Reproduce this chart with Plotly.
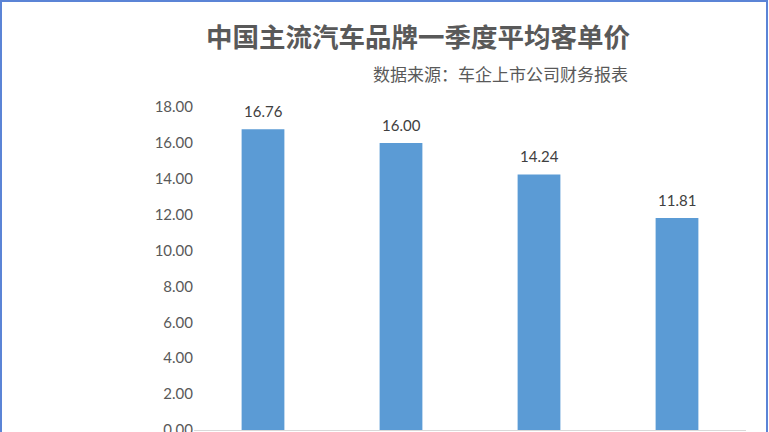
import plotly.graph_objects as go

# 数据（品牌名在原图中被裁掉，看不到）
brands = ['品牌A', '品牌B', '品牌C', '品牌D']
prices = [16.76, 16.00, 14.24, 11.81]

W, H = 769, 432
L, R, T, B = 194, 23, 107, 2

fig = go.Figure()

fig.add_trace(go.Bar(
    x=brands,
    y=prices,
    marker=dict(color='#5B9BD5', line=dict(width=0)),
))

pw = W - L - R
ph = H - T - B

# 数据标签（比 Plotly 默认的 outside 更高一点）
labels = [
    dict(x=b, y=v, text='%.2f' % v, xref='x', yref='y',
         xanchor='center', yanchor='bottom', yshift=7, showarrow=False,
         font=dict(family='Lato, Open Sans, sans-serif', size=15, color='#404040'))
    for b, v in zip(brands, prices)
]

fig.update_layout(
    width=W, height=H,
    margin=dict(l=L, r=R, t=T, b=B, autoexpand=False),
    paper_bgcolor='white',
    plot_bgcolor='white',
    bargap=0.69,
    showlegend=False,
    xaxis=dict(
        showticklabels=False,
        showline=True,
        linecolor='#D9D9D9',
        linewidth=1,
        showgrid=False,
        ticks='',
        automargin=False,
    ),
    yaxis=dict(
        range=[0, 18],
        dtick=2,
        tickformat='.2f',
        showgrid=False,
        zeroline=False,
        showline=False,
        ticks='',
        ticklen=0,
        automargin=False,
        ticklabeloverflow='allow',
        tickfont=dict(family='Lato, Open Sans, sans-serif', size=15, color='#595959'),
    ),
    annotations=labels + [
        dict(text='<b>中国主流汽车品牌一季度平均客单价</b>',
             xref='paper', yref='paper',
             x=(418 - L) / pw, y=1 + (T - 36) / ph,
             xanchor='center', yanchor='middle', showarrow=False,
             font=dict(family='Noto Sans CJK SC', size=26.5, color='#595959')),
        dict(text='数据来源：车企上市公司财务报表',
             xref='paper', yref='paper',
             x=(630 - L) / pw, y=1 + (T - 73) / ph,
             xanchor='right', yanchor='middle', showarrow=False,
             font=dict(family='Noto Sans CJK SC', size=17, color='#595959')),
    ],
    shapes=[
        dict(type='rect', xref='paper', yref='paper',
             x0=-(L - 1) / pw, x1=1 + (R - 2) / pw,
             y0=-(B + 5) / ph, y1=1 + (T - 1) / ph,
             line=dict(color='#5B84D6', width=2), fillcolor='rgba(0,0,0,0)'),
    ],
)

# 去掉页面默认的 8px 边距，让图从左上角开始
fig.write_html('out.html', config={'displayModeBar': False},
               post_script="document.body.style.margin='0';")
